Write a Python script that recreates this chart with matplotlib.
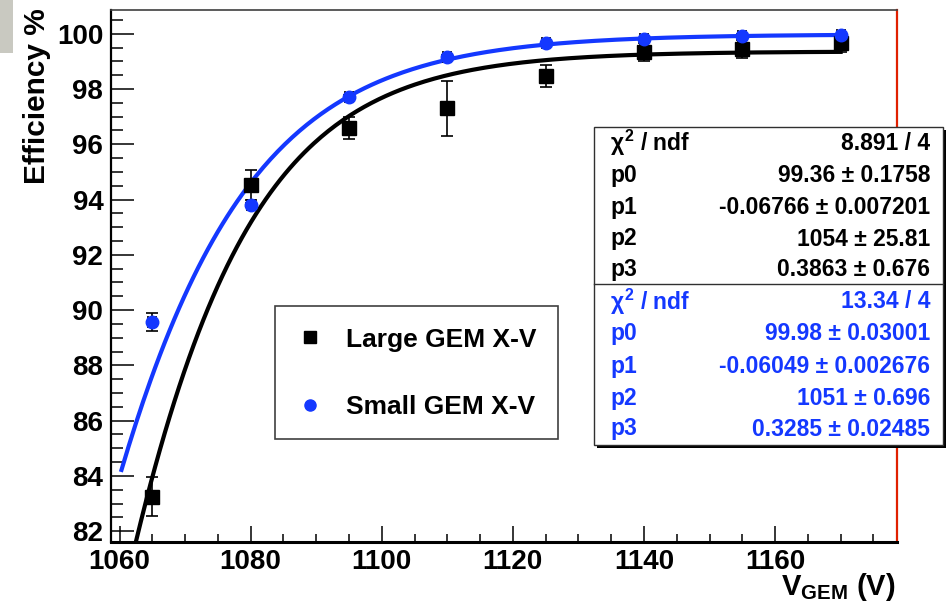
import numpy as np
import matplotlib
matplotlib.use("Agg")
import matplotlib.pyplot as plt
from matplotlib.lines import Line2D
from matplotlib.patches import Rectangle

plt.rcParams['font.family'] = ['Liberation Sans', 'DejaVu Sans']
plt.rcParams['font.weight'] = 'bold'
plt.rcParams['mathtext.fontset'] = 'custom'
plt.rcParams['mathtext.rm'] = 'Liberation Sans:bold'
plt.rcParams['mathtext.bf'] = 'Liberation Sans:bold'
plt.rcParams['mathtext.it'] = 'Liberation Sans:bold'
plt.rcParams['mathtext.sf'] = 'Liberation Sans:bold'

# ---------------- data ----------------
voltage = [1065, 1080, 1095, 1110, 1125, 1140, 1155, 1170]
large_eff = [83.25, 94.53, 96.58, 97.30, 98.47, 99.35, 99.45, 99.65]
large_err = [0.70, 0.55, 0.40, 1.00, 0.40, 0.33, 0.32, 0.30]
small_eff = [89.57, 93.80, 97.72, 99.15, 99.65, 99.81, 99.93, 99.95]
small_err = [0.32, 0.08, 0.08, 0.08, 0.06, 0.05, 0.05, 0.05]
volt_err = [0.6] * 8

large_fit = [99.36, -0.06766, 1054, 0.3863]
large_fit_err = [0.1758, 0.007201, 25.81, 0.676]
large_chi2 = "8.891 / 4"
small_fit = [99.98, -0.06049, 1051, 0.3285]
small_fit_err = [0.03001, 0.002676, 0.696, 0.02485]
small_chi2 = "13.34 / 4"
fit_range = [1060.3, 1170]

labels = ["Large GEM X-V", "Small GEM X-V"]
xticks = [1060, 1080, 1100, 1120, 1140, 1160]
yticks = [82, 84, 86, 88, 90, 92, 94, 96, 98, 100]

BLUE = '#1438ff'
W, H = 947, 602


def fx(px):
    return px / W


def fy(py):
    return 1 - py / H


def model(x, p):
    return p[0] / (1 + p[3] * np.exp(p[1] * (x - p[2])))


fig = plt.figure(figsize=(9.47, 6.02), dpi=100)
ax = fig.add_axes([fx(111), fy(541.7), fx(897) - fx(111), fy(10) - fy(541.7)])
ax.set_xlim(1058.7, 1178.6)
ax.set_ylim(81.62, 100.86)

xs = np.linspace(fit_range[0], fit_range[1], 300)
ax.plot(xs, model(xs, small_fit), color=BLUE, lw=3.0, zorder=3)
ax.plot(xs, model(xs, large_fit), color='black', lw=3.0, zorder=3)

ax.errorbar(voltage, large_eff, yerr=large_err, xerr=volt_err, fmt='s', color='black',
            ms=9.5, capsize=4, elinewidth=1.2, capthick=1.2, zorder=4)
ax.errorbar(voltage, small_eff, yerr=small_err, xerr=volt_err, fmt='o', color=BLUE,
            ecolor='black', ms=9, capsize=4, elinewidth=1.2, capthick=1.2, zorder=5)

ax.set_xticks(xticks)
ax.set_yticks(yticks)
ax.set_xticks(np.arange(1060, 1178, 5), minor=True)
ax.set_yticks(np.arange(82, 100.9, 0.5), minor=True)
ax.tick_params(axis='both', which='both', direction='in', width=1.1, color='black',
               labelsize=20)
ax.tick_params(axis='y', which='major', length=16.5, pad=5.5)
ax.tick_params(axis='y', which='minor', length=8.8)
ax.tick_params(axis='x', which='major', length=11.5, pad=5.0)
ax.tick_params(axis='x', which='minor', length=5.8)
for lab in ax.get_xticklabels() + ax.get_yticklabels():
    lab.set_fontweight('bold')

ax.spines['bottom'].set_linewidth(2.2)
ax.spines['left'].set_linewidth(1.6)
ax.spines['top'].set_linewidth(1.2)
ax.spines['top'].set_color('#404040')
ax.spines['right'].set_linewidth(1.6)
ax.spines['right'].set_color('#e02000')

# axis titles
fig.text(fx(37.5), fy(8), "Efficiency %", rotation=90, ha='center', va='top',
         fontsize=21.5, fontweight='bold')
fig.text(fx(895), fy(595), r"V$_{\mathrm{GEM}}$ (V)", ha='right', va='baseline',
         fontsize=21, fontweight='bold')

# legend (frame drawn as an axes-level patch so the legend sits above it)
ax.add_patch(Rectangle((fx(275), fy(439.3)), fx(558.3) - fx(275), fy(306) - fy(439.3),
                       transform=fig.transFigure, facecolor='white', clip_on=False,
                       edgecolor='#404040', lw=1.2, zorder=6))
handles = [Line2D([], [], ls='none', marker='s', color='black', ms=8),
           Line2D([], [], ls='none', marker='o', color=BLUE, ms=8)]
leg = ax.legend(handles, labels, loc='center left', frameon=False,
                bbox_to_anchor=(fx(288), fy(373.5)), bbox_transform=fig.transFigure,
                prop={'size': 19, 'weight': 'bold'}, handlelength=0.7,
                handletextpad=1.0, labelspacing=1.65, borderpad=0)
leg.set_zorder(7)

# stats box
bx0, by0, bx1, by1 = 594, 127, 943, 445
fig.patches.append(Rectangle((fx(bx0 + 3), fy(by1 + 3)), fx(bx1) - fx(bx0), fy(by0) - fy(by1),
                             transform=fig.transFigure, facecolor='black',
                             edgecolor='black', lw=0, zorder=8))
fig.patches.append(Rectangle((fx(bx0), fy(by1)), fx(bx1) - fx(bx0), fy(by0) - fy(by1),
                             transform=fig.transFigure, facecolor='white',
                             edgecolor='#303030', lw=1.0, zorder=9))
fig.lines.append(Line2D([fx(bx0), fx(bx1)], [fy(284.3), fy(284.3)],
                        transform=fig.transFigure, color='#303030', lw=1.0, zorder=10))


def stat_rows(chi2, pars, errs, rows_y, color):
    names = [r"$\chi^{2}$ / ndf", "p0", "p1", "p2", "p3"]
    vals = [chi2] + [f"{v:.4g} \u00b1 {e:.4g}" for v, e in zip(pars, errs)]
    for name, val, y in zip(names, vals, rows_y):
        fig.text(fx(610), fy(y), name, ha='left', va='center', fontsize=16.5,
                 fontweight='bold', color=color, zorder=11)
        fig.text(fx(930), fy(y), val, ha='right', va='center', fontsize=16.5,
                 fontweight='bold', color=color, zorder=11)


stat_rows(large_chi2, large_fit, large_fit_err, [143.3, 175, 207.7, 239, 270], 'black')
stat_rows(small_chi2, small_fit, small_fit_err, [301.7, 333.3, 366.7, 398.3, 429], BLUE)

# grey patch at top-left corner of original screenshot
fig.patches.append(Rectangle((0, fy(53)), fx(13), 1 - fy(53), transform=fig.transFigure,
                             facecolor='#c9c9c1', edgecolor='none', zorder=0))

fig.savefig("out.png", dpi=100)
